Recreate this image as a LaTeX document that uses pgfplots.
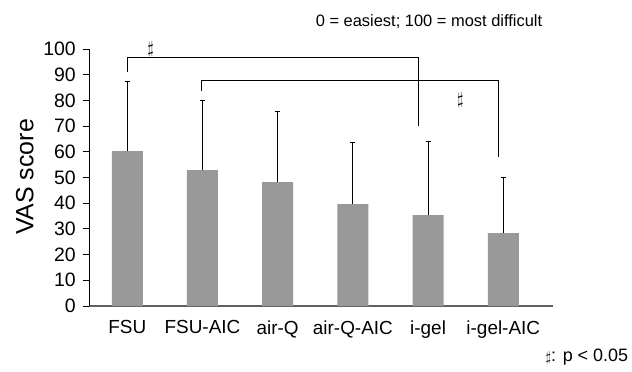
\documentclass[border=0pt]{standalone}
\usepackage{fontspec}
\setmainfont{Liberation Sans}
\usepackage{pgfplots}
\pgfplotsset{compat=1.18}
\definecolor{barg}{HTML}{999999}
\definecolor{axg}{HTML}{606060}
\begin{document}
\begin{tikzpicture}
\begin{axis}[
  at={(0,0)}, anchor=south west,
  scale only axis, width=463.4bp, height=257bp,
  xmin=-0.505, xmax=5.657, ymin=0, ymax=100,
  axis x line*=bottom, axis y line*=left,
  x axis line style={axg, line width=1.6bp},
  y axis line style={black, line width=0.8bp},
  xtick={0,1,2,3,4,5},
  xticklabels={FSU,FSU-AIC,air-Q,air-Q-AIC,i-gel,i-gel-AIC},
  x tick style={draw=none},
  ytick={0,10,...,100},
  y tick style={black, line width=0.8bp},
  tick align=outside, major tick length=6bp,
  /pgf/number format/assume math mode=true,
  yticklabel style={font=\fontsize{19.5}{22}\selectfont, xshift=-4bp},
  xticklabel style={font=\fontsize{19}{22}\selectfont, yshift=-5bp},
  clip=false,
]
\addplot[ybar, fill=barg, draw=none, bar width=31bp,
  error bars/.cd, y dir=plus, y explicit,
  error bar style={black, line width=0.8bp},
  error mark options={rotate=90, mark size=2.5bp, black, line width=0.8bp}]
  table[x=x, y=y, y error=e] {
x y e
0 60.3 26.9
1 52.9 27.0
2 48.2 27.4
3 39.6 23.9
4 35.4 28.7
5 28.4 21.7
};
\addplot[black, line width=0.8bp, no marks] coordinates {(0,91.2) (0,96.6) (3.87,96.6) (3.87,70)};
\addplot[black, line width=0.8bp, no marks] coordinates {(0.98,83.8) (0.98,87.9) (4.93,87.9) (4.93,57.9)};
\node[font=\fontsize{16}{17}\selectfont] at (axis cs:0.31,99.9) {$\sharp$};
\node[font=\fontsize{16}{17}\selectfont] at (axis cs:4.43,79.9) {$\sharp$};
\end{axis}
\node[font=\fontsize{16.5}{19}\selectfont] at (339.7bp,284bp) {0 = easiest; 100 = most difficult};
\node[font=\fontsize{25}{28}\selectfont, rotate=90] at (-64.6bp,129bp) {VAS score};
\node[font=\fontsize{18}{20}\selectfont, anchor=east, inner sep=0pt] at (539bp,-51bp) {{\fontsize{14}{15}\selectfont$\sharp$}: p < 0.05};
\pgfresetboundingbox
\useasboundingbox (-89.3bp,-66bp) rectangle (542.7bp,306bp);
\end{tikzpicture}
\end{document}
